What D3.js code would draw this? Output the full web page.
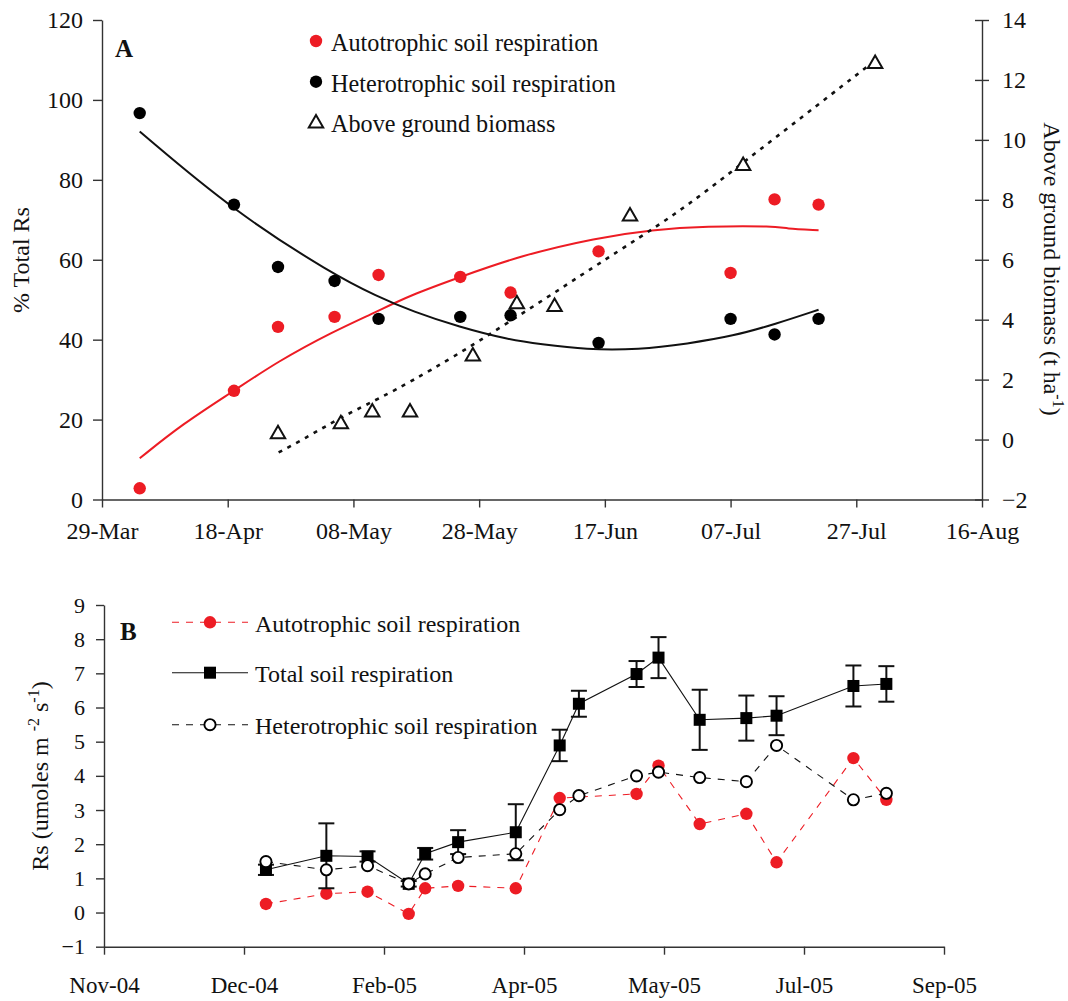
<!DOCTYPE html>
<html>
<head>
<meta charset="utf-8">
<script src="https://cdn.jsdelivr.net/npm/d3@7"></script>
<style>
  body { margin: 0; background: #fff; }
  text { font-family: "Liberation Serif", "Times New Roman", serif; fill: #111; }
</style>
</head>
<body>
<svg id="chart" width="1068" height="1001"></svg>
<script>
// ---------- Panel A: share of total soil respiration and crop biomass ----------
// x values are days after 29 March 2005
const aTickDays   = [0, 20, 40, 60, 80, 100, 120, 140];
const aTickLabels = ["29-Mar", "18-Apr", "08-May", "28-May", "17-Jun", "07-Jul", "27-Jul", "16-Aug"];
const pctTicks     = [0, 20, 40, 60, 80, 100, 120];
const biomassTicks = [-2, 0, 2, 4, 6, 8, 10, 12, 14];

const sampleDays   = [6, 21, 28, 37, 44, 57, 65, 79, 100, 107, 114];
const autoPct      = [2.8, 27.2, 43.2, 45.7, 56.2, 55.7, 51.8, 62.1, 56.7, 75.1, 73.8];
const heteroPct    = [96.7, 73.8, 58.2, 54.7, 45.2, 45.7, 46.1, 39.2, 45.2, 41.3, 45.2];

const biomassDays  = [28, 38, 43, 49, 59, 66, 72, 84, 102, 123];
const biomassVals  = [0.18, 0.52, 0.91, 0.91, 2.78, 4.52, 4.43, 7.45, 9.13, 12.54];

// trend curves
const autoFitDays   = [6, 12.8, 21, 27.9, 36.7, 43.7, 49, 57, 66.5, 78.7, 87.6, 96, 107.4, 108.5, 114];
const autoFitVals   = [10.3, 18.9, 27.2, 34.5, 42, 47, 51.1, 55.7, 61, 65.5, 67.5, 68.4, 68.4, 67.8, 67.4];
const heteroFitDays = [6, 20.9, 36.7, 43.7, 49.5, 56.8, 64.7, 69.7, 77, 85.4, 93.2, 100.4, 107.1, 114];
const heteroFitVals = [92.1, 72.2, 56.4, 50.9, 47, 43.2, 40, 38.9, 37.5, 37.5, 39, 40.9, 43.9, 47.5];
const biomassFitDays = [28.1, 32, 38.6, 45.7, 58.8, 79.8, 91.5, 100.4, 123];
const biomassFitVals = [-0.43, 0, 0.82, 1.52, 3.09, 5.98, 7.54, 8.98, 12.65];

const legendA = ["Autotrophic soil respiration", "Heterotrophic soil respiration", "Above ground biomass"];

// ---------- Panel B: soil respiration rates ----------
const bTickDates  = ["2004-11-01", "2004-12-22", "2005-02-11", "2005-04-03", "2005-05-24", "2005-07-14", "2005-09-03"];
const rsTicks     = [-1, 0, 1, 2, 3, 4, 5, 6, 7, 8, 9];

const totalDates  = ["2004-12-30", "2005-01-21", "2005-02-05", "2005-02-20", "2005-02-26", "2005-03-10",
                     "2005-03-31", "2005-04-16", "2005-04-23", "2005-05-14", "2005-05-22", "2005-06-06",
                     "2005-06-23", "2005-07-04", "2005-08-01", "2005-08-13"];
const totalRs     = [1.25, 1.66, 1.64, 0.84, 1.72, 2.06, 2.35, 4.89, 6.11, 6.98, 7.46, 5.64, 5.69, 5.76, 6.63, 6.69];
const totalErr    = [0.15, 0.95, 0.15, 0.08, 0.17, 0.35, 0.82, 0.46, 0.38, 0.38, 0.6, 0.88, 0.66, 0.57, 0.6, 0.52];

const autoDates   = ["2004-12-30", "2005-01-21", "2005-02-05", "2005-02-20", "2005-02-26", "2005-03-10",
                     "2005-03-31", "2005-04-16", "2005-05-14", "2005-05-22", "2005-06-06",
                     "2005-06-23", "2005-07-04", "2005-08-01", "2005-08-13"];
const autoRs      = [0.25, 0.55, 0.61, -0.04, 0.71, 0.78, 0.71, 3.35, 3.47, 4.30, 2.59, 2.89, 1.47, 4.52, 3.30];

const heteroDates = totalDates;
const heteroRs    = [1.49, 1.25, 1.37, 0.84, 1.13, 1.61, 1.72, 3.01, 3.42, 4.0, 4.11, 3.95, 3.83, 4.89, 3.30, 3.49];

const legendB = ["Autotrophic soil respiration", "Total soil respiration", "Heterotrophic soil respiration"];

// ---------- drawing ----------
const RED = "#ed1c24";
const AXIS = "#333";
const svg = d3.select("#chart");

function styleAxis(g, fontSize) {
  g.select(".domain").attr("stroke", AXIS).attr("stroke-width", 1.4);
  g.selectAll(".tick line").attr("stroke", AXIS).attr("stroke-width", 1.4);
  g.selectAll(".tick text").attr("fill", "#111").attr("font-size", fontSize)
    .attr("font-family", '"Liberation Serif","Times New Roman",serif');
}

// Panel A scales
const xA  = d3.scaleLinear().domain([0, 140]).range([102, 982]);
const yA  = d3.scaleLinear().domain([0, 120]).range([499.5, 20]);
const yA2 = d3.scaleLinear().domain([-2, 14]).range([499.5, 20]);

const gA = svg.append("g");

gA.append("g").attr("transform", `translate(0,${yA(0)})`)
  .call(d3.axisBottom(xA).tickValues(aTickDays).tickFormat((d, i) => aTickLabels[i])
        .tickSize(8).tickPadding(14).tickSizeOuter(0))
  .call(g => styleAxis(g, 24));

gA.append("g").attr("transform", `translate(${xA(0)},0)`)
  .call(d3.axisLeft(yA).tickValues(pctTicks).tickSize(9).tickPadding(10).tickSizeOuter(0))
  .call(g => styleAxis(g, 24));

gA.append("g").attr("transform", `translate(${xA(140)},0)`)
  .call(d3.axisRight(yA2).tickValues(biomassTicks).tickSize(7).tickPadding(13).tickSizeOuter(0))
  .call(g => styleAxis(g, 24))
  .call(g => g.selectAll(".tick line").attr("x1", -7));

// axis titles
svg.append("text").attr("transform", "translate(29,260) rotate(-90)")
  .attr("text-anchor", "middle").attr("font-size", 24).text("% Total Rs");

const rt = svg.append("text").attr("transform", "translate(1044,269) rotate(90)")
  .attr("text-anchor", "middle").attr("font-size", 24);
rt.append("tspan").text("Above ground biomass (t ha");
rt.append("tspan").attr("dy", -9).attr("font-size", 16).text("-1");
rt.append("tspan").attr("dy", 9).text(")");

svg.append("text").attr("x", 115).attr("y", 57).attr("font-size", 25)
  .attr("font-weight", "bold").text("A");

// trend curves
const fitLine = (xs, ys, y) => d3.line().x((d, i) => xA(xs[i])).y((d, i) => y(ys[i])).curve(d3.curveBasis)(xs);

gA.append("path").attr("d", fitLine(autoFitDays, autoFitVals, yA))
  .attr("fill", "none").attr("stroke", RED).attr("stroke-width", 2);
gA.append("path").attr("d", fitLine(heteroFitDays, heteroFitVals, yA))
  .attr("fill", "none").attr("stroke", "#111").attr("stroke-width", 2);
gA.append("path").attr("d", fitLine(biomassFitDays, biomassFitVals, yA2))
  .attr("fill", "none").attr("stroke", "#111").attr("stroke-width", 2.6)
  .attr("stroke-dasharray", "4,6");

// observations
const tri = d3.symbol().type(d3.symbolTriangle).size(90);
gA.selectAll(".bio").data(biomassDays).join("path")
  .attr("transform", (d, i) => `translate(${xA(d)},${yA2(biomassVals[i])})`)
  .attr("d", tri).attr("fill", "#fff").attr("stroke", "#111").attr("stroke-width", 2);
gA.selectAll(".het").data(sampleDays).join("circle")
  .attr("cx", d => xA(d)).attr("cy", (d, i) => yA(heteroPct[i])).attr("r", 6.2).attr("fill", "#000");
gA.selectAll(".aut").data(sampleDays).join("circle")
  .attr("cx", d => xA(d)).attr("cy", (d, i) => yA(autoPct[i])).attr("r", 6.2).attr("fill", RED);

// legend A
const legA = svg.append("g");
legendA.forEach((label, i) => {
  const y = 41 + i * 40.7;
  if (i < 2) {
    legA.append("circle").attr("cx", 316).attr("cy", y).attr("r", 6.2).attr("fill", i === 0 ? RED : "#000");
  } else {
    legA.append("path").attr("transform", `translate(316,${y + 1})`).attr("d", tri)
      .attr("fill", "#fff").attr("stroke", "#111").attr("stroke-width", 2);
  }
  legA.append("text").attr("x", 331).attr("y", y + 10).attr("font-size", 24.2).text(label);
});

// Panel B scales
const parse = d3.utcParse("%Y-%m-%d");
const xB = d3.scaleUtc().domain([parse(bTickDates[0]), parse(bTickDates[bTickDates.length - 1])]).range([104, 944]);
const yB = d3.scaleLinear().domain([-1, 9]).range([946.7, 605]);

const gB = svg.append("g");
gB.append("g").attr("transform", `translate(0,${yB(-1)})`)
  .call(d3.axisBottom(xB).tickValues(bTickDates.map(parse)).tickFormat(d3.utcFormat("%b-%y"))
        .tickSize(8).tickPadding(22).tickSizeOuter(0))
  .call(g => styleAxis(g, 23));
gB.append("g").attr("transform", `translate(${xB.range()[0]},0)`)
  .call(d3.axisLeft(yB).tickValues(rsTicks).tickSize(8).tickPadding(11).tickSizeOuter(0))
  .call(g => styleAxis(g, 22));

const lt = svg.append("text").attr("transform", "translate(48,776) rotate(-90)")
  .attr("text-anchor", "middle").attr("font-size", 24);
lt.append("tspan").text("Rs (umoles m ");
lt.append("tspan").attr("dy", -9).attr("font-size", 16).text("-2");
lt.append("tspan").attr("dy", 9).text(" s");
lt.append("tspan").attr("dy", -9).attr("font-size", 16).text("-1");
lt.append("tspan").attr("dy", 9).text(")");

svg.append("text").attr("x", 120).attr("y", 640).attr("font-size", 25)
  .attr("font-weight", "bold").text("B");

const lineB = (dates, vals) => d3.line().x((d, i) => xB(parse(dates[i]))).y((d, i) => yB(vals[i]))(dates);

// autotrophic series
gB.append("path").attr("d", lineB(autoDates, autoRs)).attr("fill", "none")
  .attr("stroke", RED).attr("stroke-width", 1.1).attr("stroke-dasharray", "7,7");
gB.selectAll(".aB").data(autoDates).join("circle")
  .attr("cx", d => xB(parse(d))).attr("cy", (d, i) => yB(autoRs[i])).attr("r", 6.2).attr("fill", RED);

// total series with error bars
gB.append("path").attr("d", lineB(totalDates, totalRs)).attr("fill", "none")
  .attr("stroke", "#111").attr("stroke-width", 1.1);
const eb = gB.selectAll(".eb").data(totalDates).join("g")
  .attr("transform", d => `translate(${xB(parse(d))},0)`);
eb.append("line").attr("y1", (d, i) => yB(totalRs[i] - totalErr[i])).attr("y2", (d, i) => yB(totalRs[i] + totalErr[i]))
  .attr("stroke", "#111").attr("stroke-width", 2);
eb.append("line").attr("x1", -8).attr("x2", 8)
  .attr("y1", (d, i) => yB(totalRs[i] + totalErr[i])).attr("y2", (d, i) => yB(totalRs[i] + totalErr[i]))
  .attr("stroke", "#111").attr("stroke-width", 2);
eb.append("line").attr("x1", -8).attr("x2", 8)
  .attr("y1", (d, i) => yB(totalRs[i] - totalErr[i])).attr("y2", (d, i) => yB(totalRs[i] - totalErr[i]))
  .attr("stroke", "#111").attr("stroke-width", 2);
eb.append("rect").attr("x", -6).attr("width", 12).attr("height", 12)
  .attr("y", (d, i) => yB(totalRs[i]) - 6).attr("fill", "#000");

// heterotrophic series
gB.append("path").attr("d", lineB(heteroDates, heteroRs)).attr("fill", "none")
  .attr("stroke", "#111").attr("stroke-width", 1.1).attr("stroke-dasharray", "7,7");
gB.selectAll(".hB").data(heteroDates).join("circle")
  .attr("cx", d => xB(parse(d))).attr("cy", (d, i) => yB(heteroRs[i])).attr("r", 5.6)
  .attr("fill", "#fff").attr("stroke", "#000").attr("stroke-width", 1.9);

// legend B
const legB = svg.append("g");
const rowsB = [622.3, 672.7, 724.7];
legendB.forEach((label, i) => {
  const y = rowsB[i];
  const ln = legB.append("line").attr("x1", 172).attr("x2", 248).attr("y1", y).attr("y2", y)
    .attr("stroke", i === 0 ? RED : "#111").attr("stroke-width", 1.1);
  if (i !== 1) ln.attr("stroke-dasharray", "7,7");
  if (i === 0) legB.append("circle").attr("cx", 210).attr("cy", y).attr("r", 6.2).attr("fill", RED);
  if (i === 1) legB.append("rect").attr("x", 204).attr("y", y - 6).attr("width", 12).attr("height", 12).attr("fill", "#000");
  if (i === 2) legB.append("circle").attr("cx", 210).attr("cy", y).attr("r", 5.6)
    .attr("fill", "#fff").attr("stroke", "#000").attr("stroke-width", 1.9);
  legB.append("text").attr("x", 255).attr("y", y + 9.4).attr("font-size", 24).text(label);
});
</script>
</body>
</html>
